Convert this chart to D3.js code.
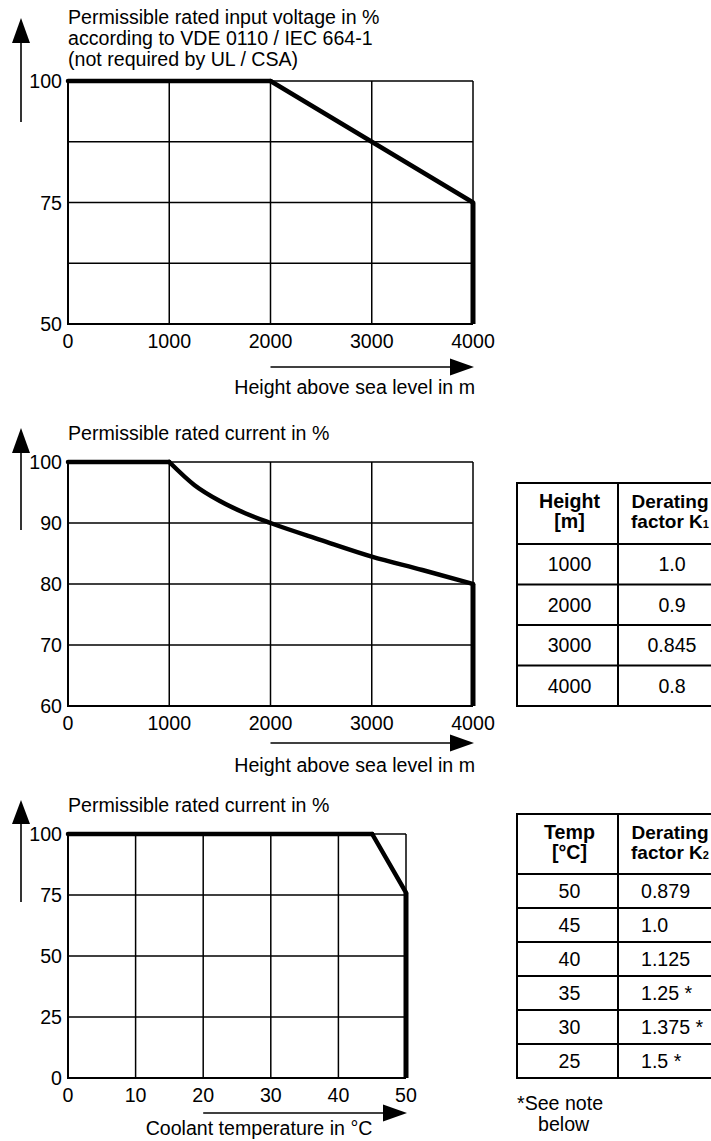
<!DOCTYPE html>
<html><head><meta charset="utf-8">
<script src="https://cdn.jsdelivr.net/npm/d3@7"></script>
<style>
html,body{margin:0;padding:0;background:#fff;}
svg{display:block;font-family:"Liberation Sans",Arial,Helvetica,sans-serif;}
</style></head>
<body><svg id="c" width="711" height="1141"></svg>
<script>
// ---------- data ----------
const voltHeights = [0, 2000, 4000];
const voltValues  = [100, 100, 75];
const voltXTicks  = [0, 1000, 2000, 3000, 4000];
const voltYGrid   = [50, 62.5, 75, 87.5, 100];
const voltYLabels = [50, 75, 100];

const curHeights = [0, 1000, 1250, 1500, 1750, 2000, 2500, 3000, 3500, 4000];
const curValues  = [100, 100, 96.2, 93.6, 91.6, 90, 87.2, 84.5, 82.3, 80];
const curXTicks  = [0, 1000, 2000, 3000, 4000];
const curYTicks  = [60, 70, 80, 90, 100];

const tempX      = [0, 45, 50];
const tempValues = [100, 100, 76];
const tempXTicks = [0, 10, 20, 30, 40, 50];
const tempYTicks = [0, 25, 50, 75, 100];

const t1Header = [["Height", "[m]"], ["Derating", "factor K", "1"]];
const t1Height = ["1000", "2000", "3000", "4000"];
const t1K1     = ["1.0", "0.9", "0.845", "0.8"];

const t2Header = [["Temp", "[°C]"], ["Derating", "factor K", "2"]];
const t2Temp   = ["50", "45", "40", "35", "30", "25"];
const t2K2     = ["0.879", "1.0", "1.125", "1.25 *", "1.375 *", "1.5 *"];

// ---------- drawing ----------
const svg = d3.select("#c");
const FS = 19.6;

function upArrow(x, tip, base, end) {
  svg.append("line").attr("x1", x).attr("x2", x).attr("y1", base - 2).attr("y2", end)
    .attr("stroke", "#000").attr("stroke-width", 1.6);
  svg.append("path").attr("d", `M${x},${tip} L${x - 9},${base} L${x + 9},${base} Z`).attr("fill", "#000");
}
function rightArrow(x0, tip, y) {
  svg.append("line").attr("x1", x0).attr("x2", tip - 20).attr("y1", y).attr("y2", y)
    .attr("stroke", "#000").attr("stroke-width", 1.6);
  svg.append("path").attr("d", `M${tip},${y} L${tip - 24},${y - 8.5} L${tip - 24},${y + 8.5} Z`).attr("fill", "#000");
}

function chart(cfg) {
  const x = d3.scaleLinear().domain(cfg.xDomain).range(cfg.xRange);
  const y = d3.scaleLinear().domain(cfg.yDomain).range(cfg.yRange);
  const g = svg.append("g");
  g.selectAll(".vg").data(cfg.xTicks).join("line")
    .attr("x1", d => x(d)).attr("x2", d => x(d))
    .attr("y1", y(cfg.yDomain[0])).attr("y2", y(cfg.yDomain[1]))
    .attr("stroke", "#000").attr("stroke-width", 1.5);
  g.selectAll(".hg").data(cfg.yGrid).join("line")
    .attr("y1", d => y(d)).attr("y2", d => y(d))
    .attr("x1", x(cfg.xDomain[0])).attr("x2", x(cfg.xDomain[1]))
    .attr("stroke", "#000").attr("stroke-width", 1.5);
  g.append("path")
    .attr("d", `M${x(cfg.xDomain[0])},${y(cfg.yDomain[1])} V${y(cfg.yDomain[0])} H${x(cfg.xDomain[1])}`)
    .attr("fill", "none").attr("stroke", "#000").attr("stroke-width", 2);
  g.selectAll(".yl").data(cfg.yLabels).join("text")
    .attr("x", 62).attr("y", d => y(d)).attr("dy", "0.36em")
    .attr("text-anchor", "end").attr("font-size", FS).text(d => d);
  g.selectAll(".xl").data(cfg.xTicks).join("text")
    .attr("x", d => x(d)).attr("y", y(cfg.yDomain[0]) + 24)
    .attr("text-anchor", "middle").attr("font-size", FS).text(d => d);
  const pts = cfg.xs.map((v, i) => [v, cfg.ys[i]]);
  const top = cfg.yDomain[1];
  let k = 0;
  while (k + 1 < pts.length && pts[k + 1][1] === top) k++;
  const flat = pts.slice(0, k + 1), fall = pts.slice(k);
  const mk = c => d3.line().x(d => x(d[0])).y(d => y(d[1])).curve(c);
  [[flat, d3.curveLinear], [fall, cfg.curve || d3.curveLinear]].forEach(([seg, c]) => {
    g.append("path").datum(seg).attr("d", mk(c))
      .attr("fill", "none").attr("stroke", "#000").attr("stroke-width", 4.5)
      .attr("stroke-linecap", "round").attr("stroke-linejoin", "round");
  });
  const last = pts[pts.length - 1];
  g.append("line").attr("x1", x(last[0])).attr("x2", x(last[0]))
    .attr("y1", y(last[1])).attr("y2", y(cfg.yDomain[0]))
    .attr("stroke", "#000").attr("stroke-width", 5);
  cfg.title.forEach((t, i) => {
    g.append("text").attr("x", 68).attr("y", cfg.titleY + i * 21).attr("font-size", FS).text(t);
  });
  upArrow(21, cfg.arrowUp[0], cfg.arrowUp[1], cfg.arrowUp[2]);
  rightArrow(x(cfg.arrowFrom), x(cfg.xDomain[1]) + 1, cfg.arrowY);
  g.append("text").attr("x", cfg.xLabelX).attr("y", cfg.xLabelY)
    .attr("text-anchor", cfg.xLabelAnchor).attr("font-size", FS).text(cfg.xLabel);
}

chart({
  xDomain: [0, 4000], xRange: [68, 473], yDomain: [50, 100], yRange: [324, 81],
  xTicks: voltXTicks, yGrid: voltYGrid, yLabels: voltYLabels,
  xs: voltHeights, ys: voltValues,
  title: ["Permissible rated input voltage in %", "according to VDE 0110 / IEC 664-1", "(not required by UL / CSA)"],
  titleY: 24, arrowUp: [18, 43, 122],
  arrowFrom: 2000, arrowY: 367,
  xLabel: "Height above sea level in m", xLabelX: 475, xLabelY: 394, xLabelAnchor: "end"
});

chart({
  xDomain: [0, 4000], xRange: [68, 473], yDomain: [60, 100], yRange: [706, 462],
  xTicks: curXTicks, yGrid: curYTicks, yLabels: curYTicks,
  xs: curHeights, ys: curValues, curve: d3.curveMonotoneX,
  title: ["Permissible rated current in %"],
  titleY: 440, arrowUp: [428, 453, 530],
  arrowFrom: 2000, arrowY: 743,
  xLabel: "Height above sea level in m", xLabelX: 475, xLabelY: 772, xLabelAnchor: "end"
});

chart({
  xDomain: [0, 50], xRange: [68, 406], yDomain: [0, 100], yRange: [1078, 834],
  xTicks: tempXTicks, yGrid: tempYTicks, yLabels: tempYTicks,
  xs: tempX, ys: tempValues,
  title: ["Permissible rated current in %"],
  titleY: 812, arrowUp: [800, 824, 902],
  arrowFrom: 20, arrowY: 1113,
  xLabel: "Coolant temperature in °C", xLabelX: 259, xLabelY: 1135, xLabelAnchor: "middle"
});

// ---------- tables ----------
function table(top, headH, rowH, header, col1, col2, col2Align) {
  const xL = 517, xM = 618, xR = 727;
  const rows = col1.map((d, i) => ({ a: d, b: col2[i] }));
  const yRow = d3.scaleLinear().domain([0, rows.length]).range([top + headH, top + headH + rows.length * rowH]);
  const g = svg.append("g");
  g.append("rect").attr("x", xL).attr("y", top).attr("width", xR - xL)
    .attr("height", headH + rows.length * rowH).attr("fill", "none").attr("stroke", "#000").attr("stroke-width", 2);
  g.append("line").attr("x1", xM).attr("x2", xM).attr("y1", top).attr("y2", yRow(rows.length))
    .attr("stroke", "#000").attr("stroke-width", 2);
  g.selectAll(".rl").data(d3.range(rows.length)).join("line")
    .attr("x1", xL).attr("x2", xR).attr("y1", d => yRow(d)).attr("y2", d => yRow(d))
    .attr("stroke", "#000").attr("stroke-width", 2);
  const c1 = (xL + xM) / 2 + 2, c2 = 670;
  const HF = 19;
  g.append("text").attr("x", c1).attr("y", top + 25).attr("text-anchor", "middle")
    .attr("font-size", FS).attr("font-weight", "bold").text(header[0][0]);
  g.append("text").attr("x", c1).attr("y", top + 45).attr("text-anchor", "middle")
    .attr("font-size", FS).attr("font-weight", "bold").text(header[0][1]);
  g.append("text").attr("x", c2).attr("y", top + 25).attr("text-anchor", "middle")
    .attr("font-size", HF).attr("font-weight", "bold").text(header[1][0]);
  const t = g.append("text").attr("x", c2).attr("y", top + 45).attr("text-anchor", "middle")
    .attr("font-size", HF).attr("font-weight", "bold");
  t.append("tspan").text(header[1][1]);
  t.append("tspan").attr("font-size", 11).text(header[1][2]);
  g.selectAll(".ca").data(rows).join("text")
    .attr("x", c1).attr("y", (d, i) => (yRow(i) + yRow(i + 1)) / 2).attr("dy", "0.36em")
    .attr("text-anchor", "middle").attr("font-size", FS).text(d => d.a);
  g.selectAll(".cb").data(rows).join("text")
    .attr("x", col2Align === "start" ? 641 : 672).attr("y", (d, i) => (yRow(i) + yRow(i + 1)) / 2).attr("dy", "0.36em")
    .attr("text-anchor", col2Align).attr("font-size", FS).text(d => d.b);
}
table(483, 61, 40.5, t1Header, t1Height, t1K1, "middle");
table(814, 60, 34, t2Header, t2Temp, t2K2, "start");

svg.append("text").attr("x", 517).attr("y", 1110).attr("font-size", FS).text("*See note");
svg.append("text").attr("x", 538).attr("y", 1131).attr("font-size", FS).text("below");
</script></body></html>
